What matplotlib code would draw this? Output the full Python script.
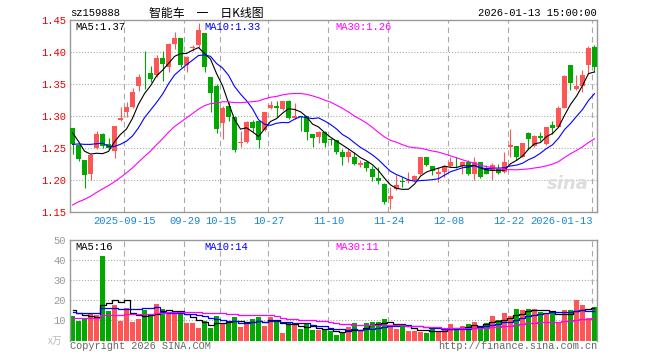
import numpy as np
import pandas as pd
import matplotlib
matplotlib.use("Agg")
import matplotlib.pyplot as plt

# daily candles, 2025-09-02 .. 2026-01-13
opens = [1.282, 1.255, 1.232, 1.2088, 1.2505, 1.2723, 1.257, 1.246, 1.2943, 1.3068,
         1.3145, 1.3472, 1.367, 1.367, 1.3644, 1.3914, 1.3768, 1.4121, 1.4215, 1.3794,
         1.4063, 1.4111, 1.4292, 1.3613, 1.3472, 1.2886, 1.316, 1.299, 1.2585, 1.259,
         1.290, 1.2917, 1.2782, 1.3125, 1.316, 1.311, 1.3228, 1.2969, 1.2995, 1.300,
         1.272, 1.2668, 1.2746, 1.264, 1.2626, 1.2434, 1.2352, 1.2367, 1.2227, 1.2279,
         1.2175, 1.203, 1.1941, 1.1708, 1.1863, 1.1977, 1.1983, 1.1993, 1.2097, 1.2363,
         1.2211, 1.2087, 1.2123, 1.2211, 1.2232, 1.2211, 1.2285, 1.2097, 1.2279, 1.2175,
         1.2139, 1.2175, 1.2123, 1.2512, 1.2528, 1.2367, 1.273, 1.2538, 1.2694, 1.2564,
         1.2866, 1.2824, 1.3125, 1.380, 1.342, 1.3472, 1.380, 1.408]
highs = [1.282, 1.256, 1.232, 1.240, 1.277, 1.273, 1.265, 1.284, 1.3145, 1.3223,
         1.343, 1.3654, 1.4017, 1.378, 1.3955, 1.4017, 1.4147, 1.4318, 1.4215, 1.394,
         1.411, 1.4458, 1.430, 1.3613, 1.350, 1.316, 1.3213, 1.300, 1.2772, 1.2917,
         1.2938, 1.2927, 1.306, 1.3239, 1.324, 1.3239, 1.325, 1.3197, 1.300, 1.300,
         1.272, 1.2772, 1.2772, 1.265, 1.2626, 1.2486, 1.2486, 1.2434, 1.2305, 1.2294,
         1.2211, 1.221, 1.195, 1.1889, 1.2071, 1.2045, 1.2123, 1.2071, 1.2363, 1.2363,
         1.2211, 1.2201, 1.2227, 1.2367, 1.2367, 1.2295, 1.2305, 1.2367, 1.2279, 1.2227,
         1.2263, 1.2253, 1.2434, 1.2798, 1.2528, 1.2576, 1.2746, 1.271, 1.2746, 1.2824,
         1.2927, 1.316, 1.3644, 1.380, 1.3644, 1.3716, 1.4095, 1.411]
lows = [1.240, 1.229, 1.187, 1.200, 1.249, 1.250, 1.249, 1.234, 1.2927, 1.299,
        1.313, 1.3395, 1.342, 1.3524, 1.3602, 1.354, 1.368, 1.4043, 1.377, 1.368,
        1.402, 1.406, 1.368, 1.3057, 1.273, 1.2642, 1.2927, 1.2434, 1.2512, 1.2575,
        1.2746, 1.2502, 1.277, 1.311, 1.299, 1.310, 1.2953, 1.2953, 1.2772, 1.2626,
        1.2512, 1.2575, 1.2523, 1.255, 1.2408, 1.2242, 1.2279, 1.2242, 1.2201, 1.2139,
        1.1983, 1.1941, 1.162, 1.1552, 1.1848, 1.189, 1.1952, 1.1977, 1.2071, 1.2211,
        1.2071, 1.1967, 1.2045, 1.2201, 1.219, 1.2097, 1.2071, 1.1993, 1.2035, 1.2087,
        1.1993, 1.2097, 1.2108, 1.2357, 1.2305, 1.2367, 1.2486, 1.252, 1.2606, 1.2554,
        1.272, 1.2824, 1.3125, 1.3405, 1.3405, 1.3369, 1.3654, 1.368]
closes = [1.256, 1.2325, 1.2085, 1.2395, 1.2723, 1.253, 1.250, 1.284, 1.297, 1.3145,
          1.3369, 1.3602, 1.3665, 1.3576, 1.3914, 1.382, 1.4132, 1.4215, 1.3794, 1.3924,
          1.4073, 1.4339, 1.3758, 1.3353, 1.2798, 1.3125, 1.299, 1.2471, 1.2592, 1.2901,
          1.2808, 1.2626, 1.3057, 1.3177, 1.3125, 1.3239, 1.2969, 1.3005, 1.299, 1.2746,
          1.2658, 1.2746, 1.2575, 1.262, 1.2434, 1.2357, 1.2434, 1.2253, 1.2268, 1.219,
          1.2045, 1.1983, 1.1656, 1.1744, 1.1915, 1.197, 1.1993, 1.2055, 1.2363, 1.2242,
          1.2139, 1.2123, 1.2211, 1.2275, 1.2227, 1.2285, 1.2087, 1.2285, 1.2045, 1.2097,
          1.2233, 1.2108, 1.2275, 1.2554, 1.2357, 1.2576, 1.2642, 1.2694, 1.2658, 1.2824,
          1.2813, 1.3125, 1.3628, 1.3509, 1.3472, 1.3644, 1.4059, 1.3758]
# volume, unit 万
volumes = [12.2, 9.7, 11.3, 13.0, 12.5, 42.2, 14.7, 17.7, 9.7, 16.0,
           9.2, 10.8, 15.2, 13.0, 18.2, 15.5, 13.8, 13.8, 13.3, 8.7,
           8.7, 6.3, 9.7, 6.3, 12.2, 8.8, 9.2, 11.7, 6.8, 8.5,
           10.8, 11.8, 7.2, 11.7, 9.7, 3.7, 8.5, 7.5, 5.8, 8.0,
           5.2, 5.0, 5.2, 4.7, 2.5, 3.8, 6.7, 8.5, 4.7, 8.5,
           9.2, 9.2, 10.7, 7.2, 5.5, 8.0, 4.7, 4.7, 4.2, 3.8,
           6.3, 4.7, 5.8, 8.2, 5.5, 7.2, 8.0, 9.2, 7.2, 8.5,
           12.2, 10.2, 13.7, 12.2, 15.8, 15.2, 15.8, 15.8, 14.2, 13.8,
           14.2, 8.7, 15.2, 15.2, 20.2, 17.7, 11.3, 16.7]

# sessions before the window, estimated from where the MA lines start
pre_closes = [1.087, 1.093, 1.099, 1.090, 1.085, 1.096, 1.103, 1.094, 1.098, 1.105,
              1.091, 1.100, 1.107, 1.095, 1.102, 1.110, 1.150, 1.175, 1.190, 1.205,
              1.225, 1.215, 1.240, 1.262, 1.245, 1.300, 1.285, 1.262, 1.266]
pre_volumes = [8.2, 9.0, 10.5, 7.8, 9.6, 11.2, 8.8, 9.3, 10.1, 8.5,
               9.9, 10.8, 8.7, 9.4, 10.2, 9.0, 8.6, 9.8, 10.4, 10.2,
               12.0, 14.0, 13.0, 11.5, 14.5, 15.7, 17.8, 14.5, 14.8]

holidays = ['2025-10-01', '2025-10-02', '2025-10-03', '2025-10-06', '2025-10-07',
            '2025-10-08', '2026-01-01', '2026-01-02']
tick_dates = ['2025-09-15', '2025-09-29', '2025-10-15', '2025-10-27', '2025-11-10',
              '2025-11-24', '2025-12-08', '2025-12-22', '2026-01-13']
tick_labels = ['2025-09-15', '09-29', '10-15', '10-27', '11-10',
               '11-24', '12-08', '12-22', '2026-01-13']

RED = '#ff5555'
GREEN = '#00a800'
GRID = '#aaaaaa'
MONO = 'Liberation Mono'
CJK = ['Noto Sans CJK SC', 'DejaVu Sans']


def moving_avg(values, pre, n):
    s = pd.Series(list(pre) + list(values))
    return s.rolling(n).mean().to_numpy()[len(pre):]


def px(x, y):
    return x / 660, 1 - y / 360


dates = pd.bdate_range('2025-09-02', '2026-01-13')
dates = dates[~dates.isin(pd.to_datetime(holidays))]
x = np.arange(len(dates))
o, h, l, c = map(np.array, (opens, highs, lows, closes))
up = c >= o
colors = np.where(up, RED, GREEN)
tick_x = [dates.get_loc(pd.Timestamp(d)) - 0.42 for d in tick_dates]

fig = plt.figure(figsize=(6.6, 3.6), dpi=100)
ax = fig.add_axes([70 / 660, 1 - 212 / 360, 527 / 660, 192 / 360])
axv = fig.add_axes([70 / 660, 1 - 340.5 / 360, 527 / 660, 100.5 / 360])

for a in (ax, axv):
    a.set_xlim(-0.42, len(x) - 1 + 0.42)
    for s in a.spines.values():
        s.set_color('#999999')
        s.set_linewidth(1.0)
    for t in tick_x:
        a.axvline(t, color=GRID, lw=0.8, ls=(0, (5, 3.5)), zorder=0)
    a.tick_params(length=0)
axv.spines['bottom'].set_visible(False)

# price panel
ax.set_ylim(1.15, 1.45)
for yv in [1.20, 1.25, 1.30, 1.35, 1.40]:
    ax.axhline(yv, color=GRID, lw=0.8, ls=(0, (1, 1.6)), zorder=0)
ax.vlines(x, l, h, colors=colors, lw=0.8, zorder=2)
body = np.maximum(np.abs(c - o), 0.0012)
ax.bar(x, body, bottom=np.minimum(o, c), width=0.82, color=colors, lw=0, zorder=3)

ma5 = moving_avg(closes, pre_closes, 5)
ma10 = moving_avg(closes, pre_closes, 10)
ma30 = moving_avg(closes, pre_closes, 30)
ax.plot(x, ma5, color='black', lw=0.8, zorder=4)
ax.plot(x, ma10, color='#0000ff', lw=0.8, zorder=4)
ax.plot(x, ma30, color='#ff00ff', lw=0.8, zorder=4)

yt = [1.15, 1.20, 1.25, 1.30, 1.35, 1.40, 1.45]
ax.set_yticks(yt)
ax.set_yticklabels([f'{v:.2f}' for v in yt], color='#ee0000', fontsize=7.6, family=MONO)
ax.tick_params(axis='y', pad=3)
ax.set_xticks([t + 0.1 for t in tick_x])
ax.set_xticklabels(tick_labels, color='#1a86d8', fontsize=7.6, family=MONO)
ax.tick_params(axis='x', pad=3)
ax.get_xticklabels()[-1].set_horizontalalignment('right')

# volume panel
axv.set_ylim(0, 50)
for yv in [10, 20, 30, 40]:
    axv.axhline(yv, color=GRID, lw=0.8, ls=(0, (1, 1.6)), zorder=0)
axv.bar(x, volumes, width=0.82, color=colors, lw=0, zorder=2)
vma5 = moving_avg(volumes, pre_volumes, 5)
vma10 = moving_avg(volumes, pre_volumes, 10)
vma30 = moving_avg(volumes, pre_volumes, 30)
axv.plot(x, vma5, color='black', lw=0.9, drawstyle='steps-mid', zorder=3)
axv.plot(x, vma10, color='#0000ff', lw=0.9, drawstyle='steps-mid', zorder=3)
axv.plot(x, vma30, color='#ff00ff', lw=0.9, drawstyle='steps-mid', zorder=3)
axv.set_yticks([10, 20, 30, 40, 50])
axv.set_yticklabels(['10', '20', '30', '40', '50'], color='#999999', fontsize=7.6, family=MONO)
axv.tick_params(axis='y', pad=3)
axv.set_xticks([])

# header texts
fig.text(*px(70, 13), 'sz159888', fontsize=7.6, family=MONO, va='center', ha='left')
fig.text(*px(206, 13), '智能车　一　日K线图', fontsize=8.6, family=CJK, va='center', ha='center')
fig.text(*px(597, 13), '2026-01-13 15:00:00', fontsize=7.6, family=MONO, va='center', ha='right')

fig.text(*px(75, 27), f'MA5:{ma5[-1]:.2f}', fontsize=7.6, family=MONO, va='center', color='black')
fig.text(*px(204, 27), f'MA10:{ma10[-1]:.2f}', fontsize=7.6, family=MONO, va='center', color='#0000ff')
fig.text(*px(335, 27), f'MA30:{ma30[-1]:.2f}', fontsize=7.6, family=MONO, va='center', color='#ff00ff')

fig.text(*px(75, 247), f'MA5:{int(vma5[-1])}', fontsize=7.6, family=MONO, va='center', color='black')
fig.text(*px(204, 247), f'MA10:{int(vma10[-1])}', fontsize=7.6, family=MONO, va='center', color='#0000ff')
fig.text(*px(335, 247), f'MA30:{int(vma30[-1])}', fontsize=7.6, family=MONO, va='center', color='#ff00ff')

fig.text(*px(48, 341), 'x万', fontsize=7, family=CJK, va='center', ha='left', color='#bbbbbb')
fig.text(*px(70, 346), 'Copyright 2026 SINA.COM', fontsize=7.4, family=MONO,
         va='center', ha='left', color='#666666')
fig.text(*px(597, 346), 'http://finance.sina.com.cn', fontsize=7.4, family=MONO,
         va='center', ha='right', color='#666666')
fig.text(*px(568, 184), 'sina', fontsize=13, weight='bold', style='italic',
         va='center', ha='center', color='#dddddd', zorder=1)

fig.savefig('out.png', dpi=100)
